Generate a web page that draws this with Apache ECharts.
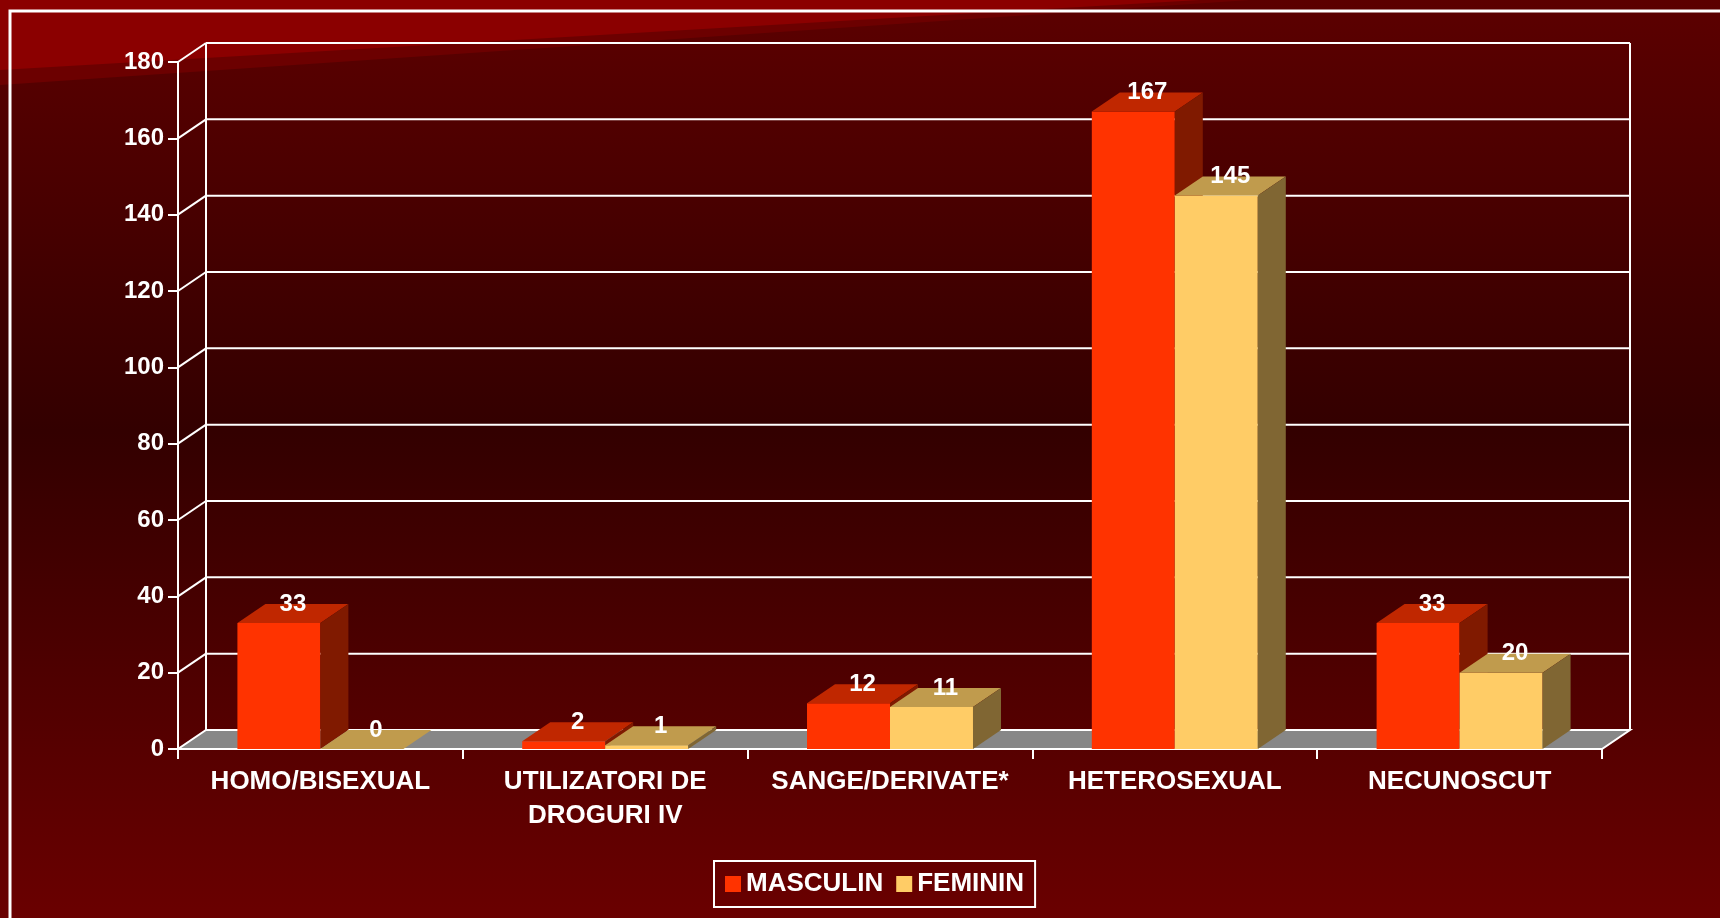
<!DOCTYPE html>
<html>
<head>
<meta charset="utf-8">
<script src="https://cdn.jsdelivr.net/npm/echarts@6/dist/echarts.min.js"></script>
<style>
  html, body { margin: 0; padding: 0; }
  #chart { width: 1720px; height: 918px; }
</style>
</head>
<body>
<div id="chart"></div>
<script>
const categories = ['HOMO/BISEXUAL', 'UTILIZATORI DE\nDROGURI IV', 'SANGE/DERIVATE*', 'HETEROSEXUAL', 'NECUNOSCUT'];
const masculin = [33, 2, 12, 167, 33];
const feminin = [0, 1, 11, 145, 20];
const yTicks = [0, 20, 40, 60, 80, 100, 120, 140, 160, 180];
const yMax = 180;

const FONT = '"Liberation Sans", Arial, sans-serif';
// depth of the fake 3d
const DX = 28, DY = -19;
const BAR_RATIO = 0.2914;

const chart = echarts.init(document.getElementById('chart'));

function renderFrame(params, api) {
    const v = api.value(1);
    const p = api.coord([0, v]);
    const band = api.size([1, 0])[0];
    const x0 = p[0] - band / 2;
    const x1 = x0 + band * categories.length;
    const y = p[1];
    const line = {stroke: '#ffffff', lineWidth: 2};
    const children = [];
    if (v === 0) {
        const top = api.coord([0, yMax])[1];
        children.push({
            type: 'polygon',
            shape: {points: [[x0, y], [x1, y], [x1 + DX, y + DY], [x0 + DX, y + DY]]},
            style: {fill: '#878787', stroke: '#ffffff', lineWidth: 2}
        });
        children.push({type: 'line', shape: {x1: x0 + DX, y1: y + DY, x2: x0 + DX, y2: top + DY}, style: line});
        children.push({type: 'line', shape: {x1: x1 + DX, y1: y + DY, x2: x1 + DX, y2: top + DY}, style: line});
    } else {
        children.push({type: 'line', shape: {x1: x0, y1: y, x2: x0 + DX, y2: y + DY}, style: line});
        children.push({type: 'line', shape: {x1: x0 + DX, y1: y + DY, x2: x1 + DX, y2: y + DY}, style: line});
    }
    return {type: 'group', children};
}

function makeBars(slot, front, top, side) {
    return function (params, api) {
        const i = api.value(0);
        const v = api.value(1);
        const p = api.coord([i, v]);
        const base = api.coord([i, 0])[1];
        const band = api.size([1, 0])[0];
        const bw = band * BAR_RATIO;
        const x = p[0] - bw + slot * bw;
        const y = p[1];
        return {
            type: 'group',
            children: [
                {type: 'rect', shape: {x: x, y: y, width: bw, height: base - y}, style: {fill: front}},
                {
                    type: 'polygon',
                    shape: {points: [[x, y], [x + bw, y], [x + bw + DX, y + DY], [x + DX, y + DY]]},
                    style: {fill: top}
                },
                {
                    type: 'polygon',
                    shape: {points: [[x + bw, y], [x + bw + DX, y + DY], [x + bw + DX, base + DY], [x + bw, base]]},
                    style: {fill: side}
                },
                {
                    type: 'text',
                    style: {
                        text: String(v), x: x + bw / 2 + DX / 2, y: y + DY,
                        fill: '#ffffff', font: 'bold 24px ' + FONT,
                        align: 'center', verticalAlign: 'middle'
                    }
                }
            ]
        };
    };
}

const option = {
    backgroundColor: {
        type: 'linear', x: 0, y: 0, x2: 0, y2: 1,
        colorStops: [
            {offset: 0, color: '#5c0000'},
            {offset: 0.47, color: '#330000'},
            {offset: 1, color: '#6a0000'}
        ]
    },
    textStyle: {fontFamily: FONT},
    graphic: [
        {type: 'polygon', z: 0, silent: true, shape: {points: [[0, 0], [1250, 0], [0, 85]]}, style: {fill: '#6c0000'}},
        {type: 'polygon', z: 0, silent: true, shape: {points: [[0, 0], [1200, 0], [0, 70]]}, style: {fill: '#8b0000'}},
        {type: 'rect', z: 0, silent: true, shape: {x: 10, y: 11, width: 1740, height: 940},
            style: {fill: 'none', stroke: '#ffffff', lineWidth: 3}}
    ],
    grid: {left: 178, top: 62, width: 1424, height: 687},
    legend: {
        data: ['MASCULIN', 'FEMININ'],
        left: 714, top: 861,
        orient: 'horizontal',
        icon: 'rect',
        itemWidth: 16, itemHeight: 16, itemGap: 13,
        padding: [10, 11],
        borderColor: '#ffffff', borderWidth: 2,
        textStyle: {color: '#ffffff', fontSize: 26, fontWeight: 'bold', fontFamily: FONT}
    },
    xAxis: {
        type: 'category',
        data: categories,
        axisLine: {lineStyle: {color: '#ffffff', width: 2}},
        axisTick: {show: true, length: 10, lineStyle: {color: '#ffffff', width: 2}},
        axisLabel: {
            color: '#ffffff', fontSize: 26, fontWeight: 'bold', fontFamily: FONT,
            lineHeight: 34, margin: 16, interval: 0
        },
        splitLine: {show: false}
    },
    yAxis: {
        type: 'value',
        min: 0, max: yMax, interval: 20,
        axisLine: {show: true, lineStyle: {color: '#ffffff', width: 2}},
        axisTick: {show: true, length: 10, lineStyle: {color: '#ffffff', width: 2}},
        axisLabel: {color: '#ffffff', fontSize: 24, fontWeight: 'bold', fontFamily: FONT, margin: 14},
        splitLine: {show: false}
    },
    series: [
        {
            type: 'custom',
            name: 'frame',
            z: 1,
            clip: false,
            silent: true,
            renderItem: renderFrame,
            encode: {x: 0, y: 1},
            data: yTicks.map(v => [0, v])
        },
        {
            type: 'custom',
            name: 'MASCULIN',
            z: 3,
            clip: false,
            itemStyle: {color: '#ff3300'},
            renderItem: makeBars(0, '#ff3300', '#c02700', '#801a00'),
            encode: {x: 0, y: 1},
            data: masculin.map((v, i) => [i, v])
        },
        {
            type: 'custom',
            name: 'FEMININ',
            z: 4,
            clip: false,
            itemStyle: {color: '#ffcc66'},
            renderItem: makeBars(1, '#ffcc66', '#c09b4d', '#806633'),
            encode: {x: 0, y: 1},
            data: feminin.map((v, i) => [i, v])
        }
    ]
};

chart.setOption(option);
</script>
</body>
</html>
